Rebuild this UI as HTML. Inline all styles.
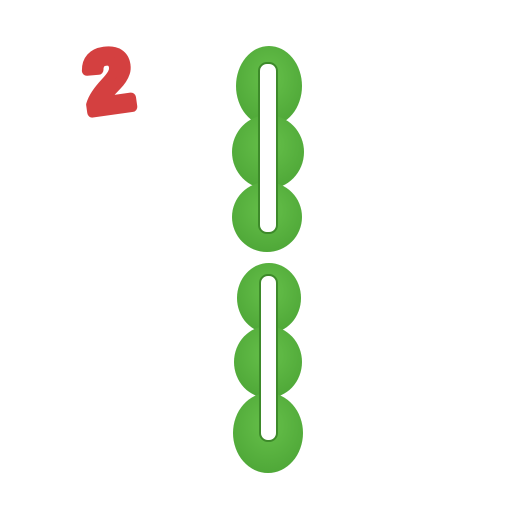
<!DOCTYPE html>
<html><head><meta charset="utf-8"><style>
html,body{margin:0;padding:0;background:#fff;}
svg{display:block;}
</style></head><body>
<svg width="512" height="512" viewBox="0 0 512 512">
<defs>
<radialGradient id="g" cx="50%" cy="40%" r="60%">
<stop offset="0" stop-color="#66c04a"/><stop offset="1" stop-color="#4fa838"/>
</radialGradient>
</defs>
<text x="108" y="110" text-anchor="middle" font-family="Liberation Sans, sans-serif" font-weight="bold" font-size="84" fill="#d44040" stroke="#d44040" stroke-width="10" stroke-linejoin="round" transform="rotate(-8 108 78)">2</text>
<g>
<ellipse cx="269" cy="86" rx="33" ry="40" fill="url(#g)"/>
<ellipse cx="268" cy="152" rx="36" ry="37" fill="url(#g)"/>
<ellipse cx="267" cy="217" rx="35" ry="35" fill="url(#g)"/>
<rect x="259" y="63" width="18" height="170" rx="8" fill="#fff" stroke="#3d8a2a" stroke-width="2"/>
</g>
<g>
<ellipse cx="269" cy="298" rx="32" ry="35" fill="url(#g)"/>
<ellipse cx="268" cy="362" rx="34" ry="36" fill="url(#g)"/>
<ellipse cx="268" cy="433" rx="35" ry="40" fill="url(#g)"/>
<rect x="260" y="275" width="17" height="166" rx="8" fill="#fff" stroke="#3d8a2a" stroke-width="2"/>
</g>
</svg>
</body></html>
